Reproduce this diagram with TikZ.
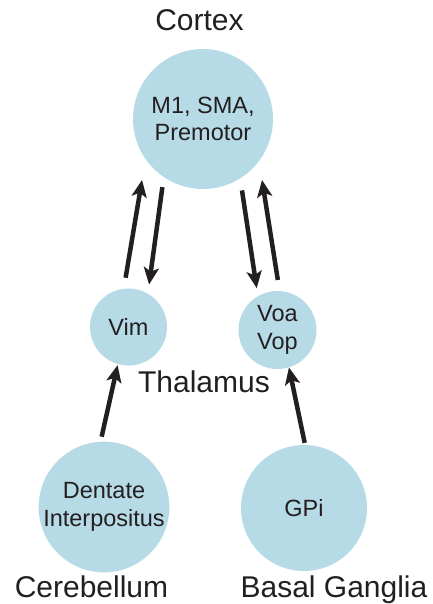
\documentclass[tikz,border=0pt]{standalone}
\usepackage{fontspec}
\setmainfont{Liberation Sans}
\usetikzlibrary{arrows.meta}
\definecolor{nucleus}{RGB}{183,219,230}
\definecolor{ink}{RGB}{35,31,32}

\begin{document}
\begin{tikzpicture}[x=1pt,y=-1pt,
    nuc/.style={circle,fill=nucleus,inner sep=0pt,text=ink,align=center,
      font=\fontsize{23.5}{27.5}\selectfont},
    region/.style={anchor=base,text=ink,font=\fontsize{30}{36}\selectfont},
    proj/.style={draw=ink,line width=4.5pt,
      -{Stealth[length=17pt,width=15pt,inset=4pt]}}]
  \useasboundingbox (0,0) rectangle (432,604);
  % nuclei
  \node[nuc,minimum size=140pt] (cortex) at (203,119) {M1, SMA,\\Premotor};
  \node[nuc,minimum size=77pt] (vim) at (128.5,327) {Vim};
  \node[nuc,minimum size=78pt] (voa) at (277.5,330) {Voa\\Vop};
  \node[nuc,minimum size=125pt] (dent) at (104,507) {Dentate\\Interpositus};
  \node[nuc,minimum size=126pt] (gpi) at (304,508) {GPi};
  % region names
  \node[region] (ctxname) at (199.5,31) {Cortex};
  \node[region] (thalname) at (204,392) {Thalamus};
  \node[region] (cbname) at (91.5,597) {Cerebellum};
  \node[region] (bgname) at (334,597) {Basal Ganglia};
  % projections
  \foreach \a/\b/\s/\e in {vim.97/cortex.215/11pt/21pt, cortex.236/vim.60/10pt/9pt,
      cortex.302/voa.120/12pt/8pt, voa.87/cortex.323/11pt/19pt,
      dent.93/vim.254/5pt/1pt, gpi.89/voa.287/2pt/0pt}
    \draw[proj,shorten <=\s,shorten >=\e] (\a) -- (\b); % 箭头
\end{tikzpicture}
\end{document}
